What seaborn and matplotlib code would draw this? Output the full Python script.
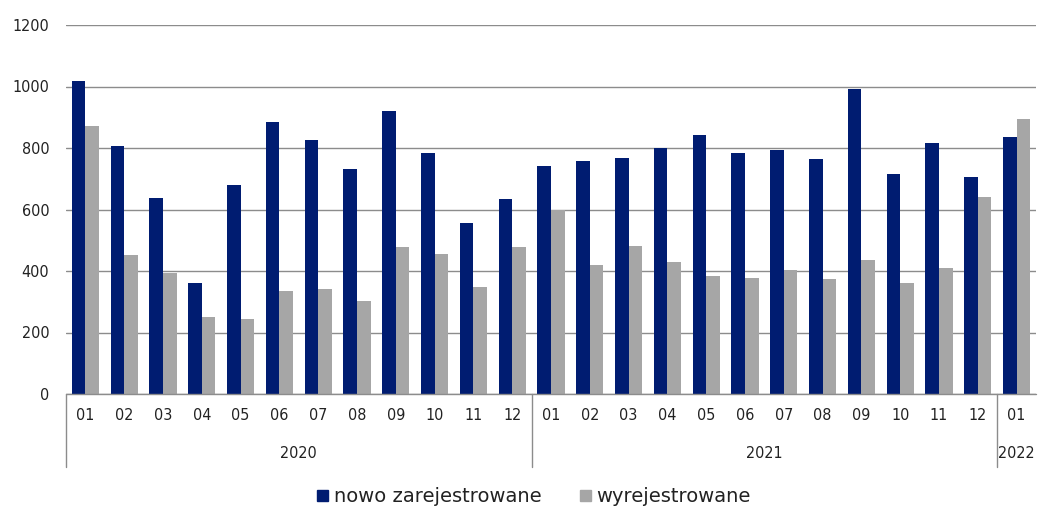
import matplotlib
matplotlib.use("Agg")
import matplotlib.pyplot as plt
import seaborn as sns
import pandas as pd
from matplotlib.lines import Line2D
from matplotlib.font_manager import FontProperties
import matplotlib.transforms as mtransforms

# ---- data ----
months = ["01", "02", "03", "04", "05", "06", "07", "08", "09", "10", "11", "12",
          "01", "02", "03", "04", "05", "06", "07", "08", "09", "10", "11", "12",
          "01"]
years = ["2020"] * 12 + ["2021"] * 12 + ["2022"]
nowo = [1018, 805, 638, 362, 680, 883, 826, 731, 920, 784, 555, 633,
        742, 757, 768, 800, 841, 784, 795, 763, 993, 716, 815, 705,
        836]
wyrej = [873, 451, 395, 252, 243, 336, 341, 304, 477, 456, 347, 477,
         599, 419, 481, 429, 384, 378, 404, 374, 436, 362, 410, 642,
         893]
series_names = ["nowo zarejestrowane", "wyrejestrowane"]
y_ticks = [0, 200, 400, 600, 800, 1000, 1200]

keys = [f"{y}-{m}" for y, m in zip(years, months)]
df = pd.DataFrame({
    "key": keys * 2,
    "value": nowo + wyrej,
    "series": [series_names[0]] * len(keys) + [series_names[1]] * len(keys),
})

sns.set_theme(style="white")
plt.rcParams["font.family"] = ["DejaVu Sans"]
plt.rcParams["font.stretch"] = "condensed"

W, H = 1038, 509
fig = plt.figure(figsize=(W / 100, H / 100), dpi=100)
ax = fig.add_axes([66 / W, 1 - 394 / H, (1036 - 66) / W, (394 - 25) / H])

palette = {series_names[0]: "#001C71", series_names[1]: "#A6A6A6"}
sns.barplot(data=df, x="key", y="value", hue="series", order=keys,
            palette=palette, width=0.7, ax=ax, saturation=1, legend=False,
            linewidth=0, edgecolor="none")

txtc = "#222222"
ax.set_ylim(0, 1200)
ax.set_xlim(-0.5, len(keys) - 0.5)
ax.set_yticks(y_ticks)
ax.set_yticklabels([str(t) for t in y_ticks], fontsize=11.5, color=txtc)
ax.yaxis.grid(True, color="#8C8C8C", linewidth=1)
ax.set_axisbelow(True)
for s in ["top", "right", "left", "bottom"]:
    ax.spines[s].set_visible(False)
ax.tick_params(axis="y", length=0, pad=12)
ax.tick_params(axis="x", length=0, pad=10)
ax.set_xticks(range(len(keys)))
ax.set_xticklabels(months, fontsize=11.5, color=txtc)
ax.set_xlabel("")
ax.set_ylabel("")

# category box lines
trans = mtransforms.blended_transform_factory(ax.transData, fig.transFigure)
y_top = 1 - 394 / H
y_bot = 1 - 467 / H
ax.add_line(Line2D([-0.5, len(keys) - 0.5], [y_top, y_top], transform=trans,
                   color="#8C8C8C", linewidth=1, clip_on=False))
for b in [-0.5, 11.5, 23.5]:
    ax.add_line(Line2D([b, b], [y_top, y_bot], transform=trans,
                       color="#8C8C8C", linewidth=1, clip_on=False))

# year labels
for yr, (a, b) in zip(["2020", "2021", "2022"], [(0, 11), (12, 23), (24, 24)]):
    ax.text((a + b) / 2, 1 - 453 / H, yr, transform=trans, ha="center",
            va="center", fontsize=11.5, color=txtc)

# legend
handles = [plt.Rectangle((0, 0), 1, 1, color=palette[n]) for n in series_names]
leg_font = FontProperties(family="DejaVu Sans", stretch="normal", size=14)
fig.legend(handles, series_names, loc="center", bbox_to_anchor=(534 / W, 1 - 497 / H),
           ncol=2, frameon=False, prop=leg_font, handlelength=0.55, handleheight=0.55,
           handletextpad=0.3, columnspacing=2.0, labelcolor=txtc)

fig.savefig("out.png", dpi=100)
